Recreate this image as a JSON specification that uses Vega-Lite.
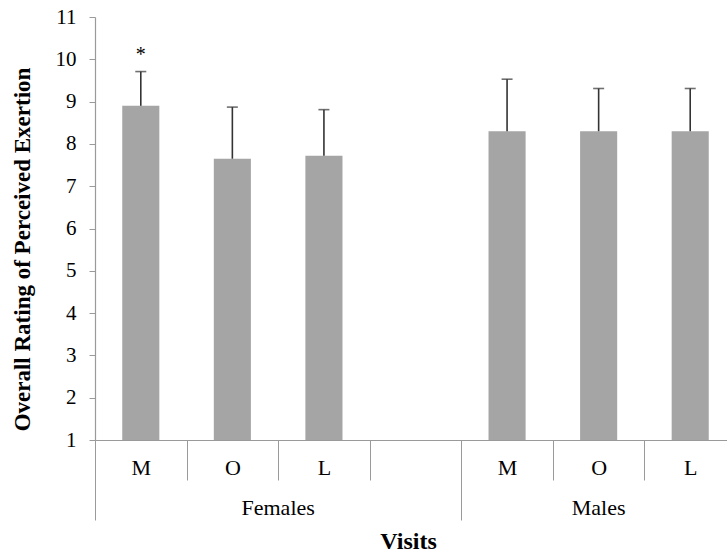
{
  "$schema": "https://vega.github.io/schema/vega-lite/v6.json",
  "width": 632,
  "height": 423,
  "autosize": "none",
  "padding": {"left": 95, "top": 17, "right": 0, "bottom": 116},
  "background": "white",
  "config": {
    "view": {"stroke": null},
    "font": "Liberation Serif",
    "axis": {"labelFont": "Liberation Serif", "titleFont": "Liberation Serif", "labelColor": "black", "titleColor": "black", "grid": false}
  },
  "data": {
    "values": [
      {"slot": "Females M", "mean": 8.9, "upper": 9.71, "sig": "*"},
      {"slot": "Females O", "mean": 7.65, "upper": 8.87, "sig": ""},
      {"slot": "Females L", "mean": 7.72, "upper": 8.81, "sig": ""},
      {"slot": "Males M", "mean": 8.3, "upper": 9.53, "sig": ""},
      {"slot": "Males O", "mean": 8.3, "upper": 9.31, "sig": ""},
      {"slot": "Males L", "mean": 8.3, "upper": 9.31, "sig": ""}
    ]
  },
  "layer": [
    {
      "mark": {"type": "bar", "color": "#A5A5A5", "width": {"band": 0.405}},
      "encoding": {
        "x": {
          "field": "slot", "type": "nominal", "sort": null,
          "scale": {"domain": ["Females M", "Females O", "Females L", "Females gap", "Males M", "Males O", "Males L"], "range": [0, 641], "paddingInner": 0, "paddingOuter": 0},
          "axis": {
            "orient": "bottom", "title": null, "tickBand": "extent", "tickSize": 40, "tickColor": "#9A9A9A", "tickWidth": 1,
            "domainColor": "#9A9A9A", "domainWidth": 1.2,
            "labelExpr": "isString(datum.value) && indexof(datum.value, 'gap') < 0 ? slice(datum.value, -1) : ''",
            "labelAngle": 0, "labelFontSize": 22, "labelBaseline": "middle", "labelPadding": -13, "labelOverlap": false, "labelFlush": false
          }
        },
        "y": {
          "field": "mean", "type": "quantitative",
          "scale": {"domain": [1, 11], "nice": false, "zero": false},
          "axis": {
            "values": [1, 2, 3, 4, 5, 6, 7, 8, 9, 10, 11],
            "tickSize": 6, "tickColor": "#9A9A9A", "domainColor": "#9A9A9A", "domainWidth": 1.2,
            "labelFontSize": 21, "labelPadding": 13, "labelBaseline": "middle",
            "title": "Overall Rating of Perceived Exertion",
            "titleFontSize": 23, "titleFontWeight": "bold", "titleAngle": -90,
            "titleX": -73, "titleY": 232, "titleAlign": "center", "titleBaseline": "middle"
          }
        },
        "y2": {"datum": 1}
      }
    },
    {
      "mark": {"type": "rule", "color": "#333333", "strokeWidth": 1.6},
      "encoding": {
        "x": {
          "field": "slot", "type": "nominal", "sort": null,
          "axis": {
            "orient": "bottom", "domain": false, "values": ["Females M", "Males M"], "bandPosition": 0,
            "tickSize": 80, "tickColor": "#9A9A9A", "tickWidth": 1, "labels": false,
            "title": "Visits", "titleFontSize": 24, "titleFontWeight": "bold",
            "titleX": 313, "titleY": 108, "titleAlign": "center", "titleBaseline": "alphabetic"
          }
        },
        "y": {"field": "mean", "type": "quantitative"},
        "y2": {"field": "upper"}
      }
    },
    {
      "mark": {"type": "tick", "color": "#333333", "size": 11, "thickness": 1.6},
      "encoding": {
        "x": {
          "field": "slot", "type": "nominal", "sort": null,
          "axis": {
            "orient": "bottom", "domain": false, "ticks": false, "values": ["Females O"], "title": null,
            "labelExpr": "'Females'", "labelOffset": 45.8,
            "labelAngle": 0, "labelFontSize": 22, "labelBaseline": "middle", "labelPadding": 67.5, "labelOverlap": false, "labelFlush": false
          }
        },
        "y": {"field": "upper", "type": "quantitative"}
      }
    },
    {
      "mark": {"type": "text", "dy": -11, "fontSize": 20, "baseline": "alphabetic", "color": "black", "font": "Liberation Serif"},
      "encoding": {
        "x": {
          "field": "slot", "type": "nominal", "sort": null,
          "axis": {
            "orient": "bottom", "domain": false, "ticks": false, "values": ["Males O"], "title": null,
            "labelExpr": "'Males'",
            "labelAngle": 0, "labelFontSize": 22, "labelBaseline": "middle", "labelPadding": 67.5, "labelOverlap": false, "labelFlush": false
          }
        },
        "y": {"field": "upper", "type": "quantitative"},
        "text": {"field": "sig"}
      }
    }
  ],
  "resolve": {"axis": {"x": "independent"}}
}
